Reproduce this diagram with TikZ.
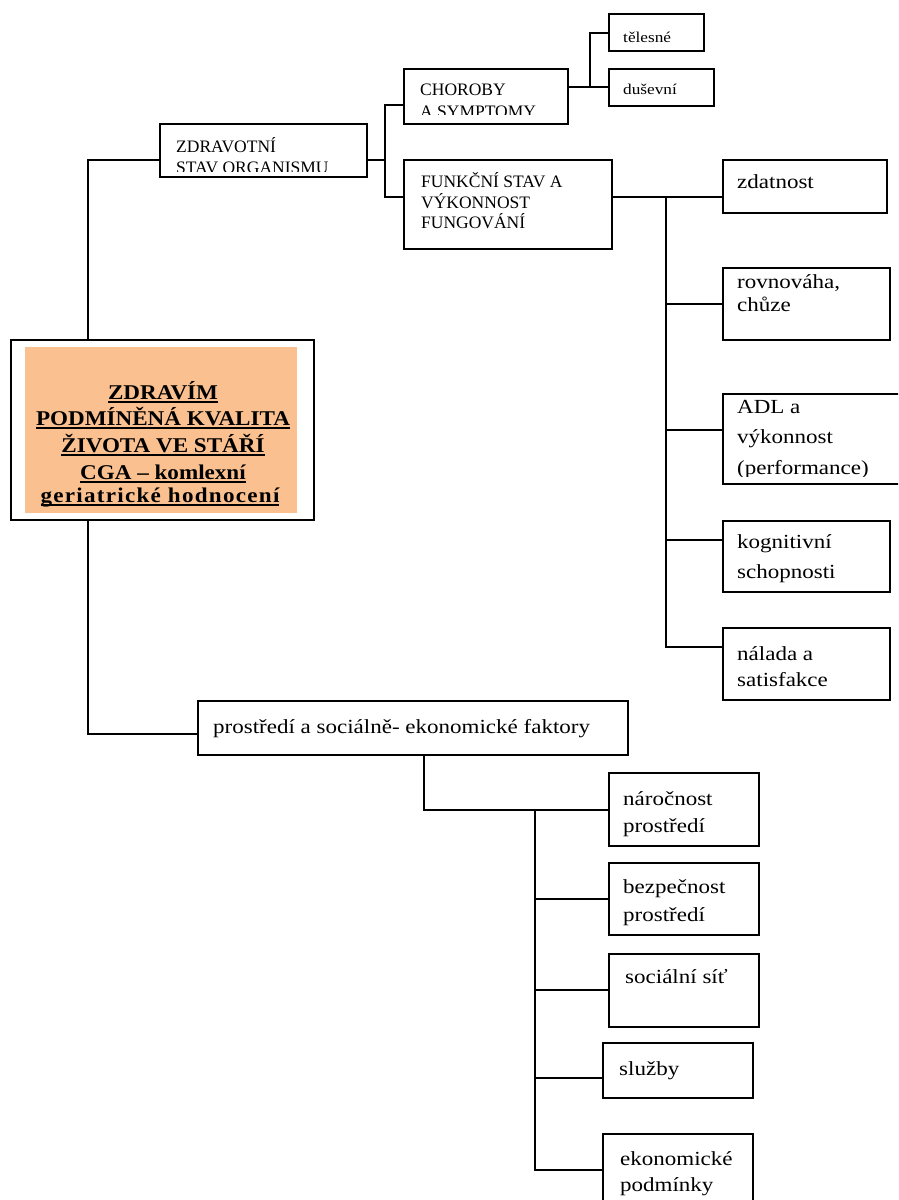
\documentclass[tikz,border=0pt]{standalone}
\usepackage{fontspec}
\setmainfont{Liberation Serif}
\newfontfamily\boxfont[FakeStretch=1.15]{Liberation Serif}
\newfontfamily\capfont{Liberation Serif}
\newfontfamily\titlefont[FakeStretch=1.1]{Liberation Serif}
\definecolor{peach}{RGB}{251,192,143}
\newcommand\myul[1]{\setbox0=\hbox{#1}\rlap{\rule[-4.2pt]{\wd0}{1.8pt}}\box0}
\tikzset{
  boxst/.style={draw=black, line width=1.5pt, inner sep=0pt, outer sep=0pt, anchor=north west},
  conn/.style={draw=black, line width=1.5pt},
  lowt/.style={inner sep=0pt, anchor=base west, font=\boxfont\fontsize{20}{24}\selectfont},
  smallt/.style={inner sep=0pt, anchor=base west, font=\boxfont\fontsize{15}{18}\selectfont},
  capt/.style={inner sep=0pt, anchor=base west, font=\capfont\fontsize{17.5}{20}\selectfont},
  titlet/.style={inner sep=0pt, anchor=base, font=\titlefont\bfseries\fontsize{21}{24}\selectfont},
}
\newcommand\bx[5]{\node[boxst, minimum width={(#4)-(#2)}, minimum height={(#5)-(#3)}] (#1) at (#2,#3) {};}
\begin{document}
\begin{tikzpicture}[x=1pt, y=-1pt]
\clip (0,0) rectangle (898,1200);
\fill[white] (0,0) rectangle (898,1200);

% ---------- main box ----------
\node[boxst, minimum width=303, minimum height=180] (main) at (11,340) {};
\node[inner sep=0pt, outer sep=0pt, anchor=north west, fill=peach, minimum width=272, minimum height=166] (mainfill) at (25,347) {};
\node[titlet] (m1) at (163,399) {\myul{ZDRAVÍM}};
\node[titlet] (m2) at (163,425) {\myul{PODMÍNĚNÁ KVALITA}};
\node[titlet] (m3) at (163,452) {\myul{ŽIVOTA VE STÁŘÍ}};
\node[titlet] (m4) at (163,479) {\myul{CGA – komlexní}};
\node[titlet] (m5) at (160,502) {\myul{\addfontfeature{LetterSpace=6}geriatrické hodnocení}};

% ---------- upper branch ----------
\bx{zdrav}{160}{124}{367}{177}
\begin{scope}
\clip (160,124) rectangle (367,171);
\node[capt] (zdrav1) at (176,152) {ZDRAVOTNÍ};
\node[capt] (zdrav2) at (176,173) {STAV ORGANISMU};
\end{scope}

\bx{chor}{404}{69}{568}{124}
\begin{scope}
\clip (404,69) rectangle (568,114);
\node[capt] (chor1) at (420,95) {CHOROBY};
\node[capt] (chor2) at (420,117) {A SYMPTOMY};
\end{scope}

\bx{funk}{404}{160}{612}{249}
\node[capt] (funk1) at (421,187) {FUNKČNÍ STAV A};
\node[capt] (funk2) at (421,208) {VÝKONNOST};
\node[capt] (funk3) at (421,228) {FUNGOVÁNÍ};

\bx{teles}{609}{14}{704}{51}
\node[smallt] (teles1) at (623,42) {tělesné};
\bx{dusev}{609}{69}{714}{106}
\node[smallt] (dusev1) at (623,94) {duševní};

\bx{zdat}{723}{160}{887}{213}
\node[lowt] (zdat1) at (737,188) {zdatnost};

\bx{rovn}{723}{268}{890}{340}
\node[lowt] (rovn1) at (737,288) {rovnováha,};
\node[lowt] (rovn2) at (737,311) {chůze};

\bx{adl}{723}{394}{912}{484}
\begin{scope}
\clip (723,394) rectangle (912,476);
\node[lowt] (adl1) at (737,413) {ADL a};
\node[lowt] (adl2) at (737,443) {výkonnost};
\node[lowt] (adl3) at (737,474) {(performance)};
\end{scope}

\bx{kogn}{723}{521}{890}{592}
\node[lowt] (kogn1) at (737,548) {kognitivní};
\node[lowt] (kogn2) at (737,578) {schopnosti};

\bx{nalada}{723}{628}{890}{700}
\node[lowt] (nalada1) at (737,660) {nálada a};
\node[lowt] (nalada2) at (737,686) {satisfakce};

% ---------- lower branch ----------
\bx{prost}{198}{701}{628}{755}
\node[lowt] (prost1) at (213,733) {prostředí a sociálně- ekonomické faktory};

\bx{naroc}{609}{773}{759}{846}
\node[lowt] (naroc1) at (623,805) {náročnost};
\node[lowt] (naroc2) at (623,832) {prostředí};

\bx{bezp}{609}{863}{759}{935}
\node[lowt] (bezp1) at (623,893) {bezpečnost};
\node[lowt] (bezp2) at (623,921) {prostředí};

\bx{soc}{609}{954}{759}{1027}
\node[lowt] (soc1) at (625,983) {sociální síť};

\bx{sluz}{603}{1043}{753}{1098}
\node[lowt] (sluz1) at (619,1075) {služby};

\bx{ekon}{603}{1134}{753}{1220}
\node[lowt] (ekon1) at (620,1165) {ekonomické};
\node[lowt] (ekon2) at (620,1191) {podmínky};

% ---------- connectors ----------
\draw[conn] (main.north -| 88,0) -- (88,160) -- (zdrav.west |- 0,160);
\draw[conn] (zdrav.east |- 0,160) -- (385,160);
\draw[conn] (chor.west |- 0,105) -| (385,197) -- (funk.west |- 0,197);
\draw[conn] (chor.east |- 0,87) -- (dusev.west |- 0,87);
\draw[conn] (teles.west |- 0,33) -| (590,87);

\draw[conn] (funk.east |- 0,197) -- (zdat.west |- 0,197);
\draw[conn] (666,197) |- (nalada.west |- 0,647);
\draw[conn] (666,304) -- (rovn.west |- 0,304);
\draw[conn] (666,430) -- (adl.west |- 0,430);
\draw[conn] (666,540) -- (kogn.west |- 0,540);

\draw[conn] (main.south -| 88,0) |- (prost.west |- 0,734);
\draw[conn] (prost.south -| 424,0) |- (naroc.west |- 0,810);
\draw[conn] (535,810) |- (ekon.west |- 0,1170);
\draw[conn] (535,899) -- (bezp.west |- 0,899);
\draw[conn] (535,990) -- (soc.west |- 0,990);
\draw[conn] (535,1078) -- (sluz.west |- 0,1078);
\end{tikzpicture}
\end{document}
